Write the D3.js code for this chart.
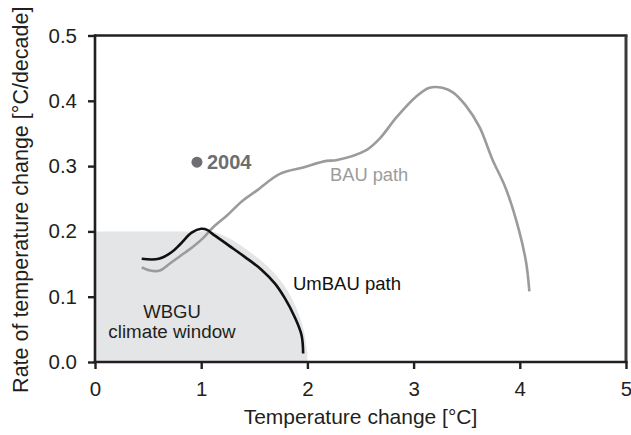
<!DOCTYPE html>
<html><head><meta charset="utf-8">
<script src="https://cdn.jsdelivr.net/npm/d3@7"></script>
<style>
html,body{margin:0;padding:0;background:#fff;}
svg{display:block;font-family:"Liberation Sans",Arial,Helvetica,sans-serif;}
</style></head>
<body>
<svg id="chart" width="631" height="435"></svg>
<script>
// ---- data ----
const xTicks = [0, 1, 2, 3, 4, 5];
const yTicks = [0.0, 0.1, 0.2, 0.3, 0.4, 0.5];
const xTitle = "Temperature change [°C]";
const yTitle = "Rate of temperature change [°C/decade]";

// WBGU climate window: curved outer edge (temperature, rate), plus corner points
const windowX = [1.0, 1.1, 1.26, 1.42, 1.58, 1.71, 1.81, 1.90, 1.96, 1.99, 2.0, 2.0];
const windowY = [0.2, 0.2, 0.19, 0.173, 0.153, 0.132, 0.11, 0.081, 0.052, 0.025, 0.01, 0];
const windowCornerX = [0, 0];
const windowCornerY = [0, 0.2];

// BAU path
const bauX = [0.44, 0.52, 0.61, 0.69, 0.80, 0.92, 1.02, 1.11, 1.24, 1.39, 1.52, 1.74, 1.96, 2.18, 2.27, 2.55, 2.68, 2.84, 3.02, 3.15, 3.27, 3.37, 3.49, 3.62, 3.74, 3.87, 3.99, 4.06, 4.09];
const bauY = [0.145, 0.140, 0.140, 0.149, 0.162, 0.176, 0.190, 0.206, 0.224, 0.247, 0.262, 0.288, 0.298, 0.308, 0.309, 0.324, 0.342, 0.375, 0.406, 0.420, 0.420, 0.413, 0.393, 0.360, 0.311, 0.265, 0.203, 0.152, 0.108];

// UmBAU path
const umbauX = [0.44, 0.60, 0.72, 0.80, 0.91, 1.00, 1.06, 1.10, 1.255, 1.41, 1.57, 1.695, 1.79, 1.88, 1.945, 1.96];
const umbauY = [0.158, 0.158, 0.168, 0.180, 0.198, 0.204, 0.202, 0.197, 0.179, 0.161, 0.141, 0.120, 0.097, 0.069, 0.041, 0.013];

// 2004 point
const pointX = [0.96];
const pointY = [0.306];
const pointLabel = ["2004"];

// ---- layout ----
const svg = d3.select("#chart");
const x = d3.scaleLinear().domain([0, 5]).range([95, 626]);
const y = d3.scaleLinear().domain([0, 0.5]).range([362, 35.5]);

const dark = "#231f20";

// window area
const edge = d3.line().x(d => x(d[0])).y(d => y(d[1])).curve(d3.curveCatmullRom.alpha(0.5))(windowX.map((v, i) => [v, windowY[i]]));
const corners = windowCornerX.map((v, i) => `L${x(v)},${y(windowCornerY[i])}`).join("");
svg.append("path").attr("d", edge + corners + "Z").attr("fill", "#e4e5e7");

// frame top/right
svg.append("line").attr("x1", x(0)).attr("x2", x(5) + 1.5).attr("y1", y(0.5)).attr("y2", y(0.5))
  .attr("stroke", dark).attr("stroke-width", 2.7);
svg.append("line").attr("x1", x(5)).attr("x2", x(5)).attr("y1", y(0.5)).attr("y2", y(0))
  .attr("stroke", "#3a3a3c").attr("stroke-width", 3);

// axes
const xAxis = d3.axisBottom(x).tickValues(xTicks).tickFormat(d3.format("d")).tickSizeOuter(0).tickSize(7);
const yAxis = d3.axisLeft(y).tickValues(yTicks).tickFormat(d3.format(".1f")).tickSizeOuter(0).tickSize(7).tickPadding(11);

const gx = svg.append("g").attr("transform", `translate(0,${y(0)})`).call(xAxis);
const gy = svg.append("g").attr("transform", `translate(${x(0)},0)`).call(yAxis);
[gx, gy].forEach(g => {
  g.select(".domain").attr("stroke", dark).attr("stroke-width", 2.6);
  g.selectAll(".tick line").attr("stroke", dark).attr("stroke-width", 2.4);
  g.selectAll(".tick text").attr("fill", "#231f20").attr("font-size", 20.5)
    .attr("font-family", "Liberation Sans, Arial, sans-serif");
});
gx.select(".domain").attr("d", `M${x(0) - 1.3},0H${x(5) + 1.5}`);
gy.select(".domain").attr("d", `M0,${y(0) + 1.3}V${y(0.5) - 1.3}`);
gx.selectAll(".tick text").attr("dy", null).attr("y", 34);

// axis titles
svg.append("text").attr("x", (x(0) + x(5)) / 2).attr("y", 424)
  .attr("text-anchor", "middle").attr("font-size", 21).attr("fill", dark).text(xTitle);
svg.append("text").attr("transform", `translate(28,${(y(0) + y(0.5)) / 2 + 1}) rotate(-90)`)
  .attr("text-anchor", "middle").attr("font-size", 21.5).attr("fill", dark).text(yTitle);

// lines
const line = d3.line().x(d => x(d[0])).y(d => y(d[1])).curve(d3.curveCatmullRom.alpha(0.5));
svg.append("path").datum(bauX.map((v, i) => [v, bauY[i]]))
  .attr("d", line).attr("fill", "none").attr("stroke", "#9b9b9d").attr("stroke-width", 2.6)
  .attr("stroke-linejoin", "round");
svg.append("path").datum(umbauX.map((v, i) => [v, umbauY[i]]))
  .attr("d", line).attr("fill", "none").attr("stroke", "#111").attr("stroke-width", 2.6)
  .attr("stroke-linejoin", "round");

// point
svg.selectAll("circle.pt").data(pointX).enter().append("circle")
  .attr("cx", (d) => x(d)).attr("cy", (d, i) => y(pointY[i])).attr("r", 5.5).attr("fill", "#6d6e71");
svg.selectAll("text.pt").data(pointLabel).enter().append("text")
  .attr("x", (d, i) => x(pointX[i]) + 10).attr("y", (d, i) => y(pointY[i]) + 7)
  .attr("font-size", 20).attr("font-weight", "bold").attr("fill", "#6d6e71").text(d => d);

// labels
svg.append("text").attr("x", 330).attr("y", 181).attr("font-size", 18.3).attr("fill", "#9b9b9d").text("BAU path");
svg.append("text").attr("x", 293).attr("y", 290).attr("font-size", 18.5).attr("fill", "#111").text("UmBAU path");
svg.append("text").attr("x", 172).attr("y", 318).attr("text-anchor", "middle").attr("font-size", 18.5).attr("fill", "#231f20").text("WBGU");
svg.append("text").attr("x", 172).attr("y", 338).attr("text-anchor", "middle").attr("font-size", 18.8).attr("fill", "#231f20").text("climate window");
</script>
</body></html>
